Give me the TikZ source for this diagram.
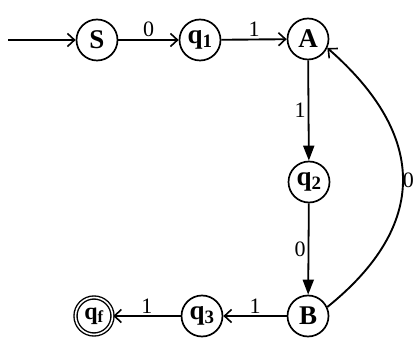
\documentclass[tikz,border=0pt]{standalone}
\usepackage{fontspec}
\setmainfont{Liberation Serif}
\usetikzlibrary{arrows.meta}
\begin{document}
\begin{tikzpicture}[x=1pt,y=1pt,
  state/.style={circle,draw,line width=1.7pt,minimum size=41pt,inner sep=0pt,font=\fontsize{27}{29}\selectfont\bfseries},
  acc/.style={state,double,double distance=1.6pt,line width=1.4pt,minimum size=37pt},
  openarr/.style={-{Straight Barb[length=7pt,width=13pt,line width=1.6pt]},line width=1.9pt},
  fillarr/.style={-{Triangle[length=15pt,width=11pt]},line width=1.8pt},
  lab/.style={font=\fontsize{22}{24}\selectfont,inner sep=2pt}]
\useasboundingbox (0,0) rectangle (414,356);
\node[state] (S) at (97,316) {S};
\node[state] (q1) at (200,316) {q\textsubscript{1}};
\node[state] (A) at (308,317) {A};
\node[state] (q2) at (309,174) {q\textsubscript{2}};
\node[state] (B) at (308,40) {B};
\node[state] (q3) at (202,40) {q\textsubscript{3}};
\node[acc] (qf) at (94,40) {\fontsize{24}{26}\selectfont q\textsubscript{f}};
\coordinate (start) at (8,316);
\draw[openarr] (start) -- (S);
\draw[openarr] (S) -- node[lab,above] {0} (q1);
\draw[openarr] (q1) -- node[lab,above] {1} (A);
\draw[fillarr] (A) -- node[lab,left] {1} (q2);
\draw[fillarr] (q2) -- node[lab,left] {0} (B);
\draw[openarr] (B) -- node[lab,above] {1} (q3);
\draw[openarr] (q3) -- node[lab,above] {1} (qf);
\draw[openarr] (B.25) .. controls (428,130) and (428,220) .. node[lab,right,xshift=-3pt] {0} (A.-25);
\end{tikzpicture}
\end{document}
